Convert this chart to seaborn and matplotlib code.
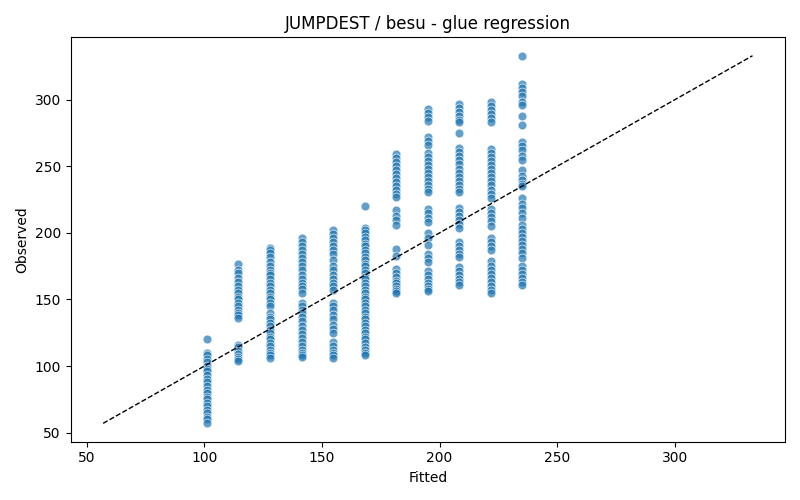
import matplotlib
matplotlib.use("Agg")
import matplotlib.pyplot as plt
import seaborn as sns
import numpy as np
import pandas as pd

fitted_levels = [101.1, 114.5, 128.0, 141.4, 154.8, 168.2, 181.6, 195.0, 208.4, 221.8, 235.2]

obs_c1 = [120, 110, 108, 105, 103, 100, 98, 96, 93, 90, 88, 85, 82, 80, 77, 75, 72, 70, 67, 65, 62, 60, 57]
obs_c2 = [177, 172, 170, 166, 163, 160, 157, 155, 152, 150, 147, 145, 142, 140, 138, 136,
          116, 114, 111, 109, 107, 105, 104]
obs_c3 = [189, 187, 185, 182, 178, 175, 172, 170, 168, 165, 162, 160, 157, 155, 152, 150, 147, 145,
          140, 137, 135, 132, 130, 127, 125, 122, 120, 117, 115, 112, 110, 108, 106]
obs_c4 = [196, 193, 190, 187, 184, 181, 178, 175, 172, 168, 165, 162, 160, 158, 155,
          147, 145, 142, 140, 137, 134, 130, 127, 124, 121, 118, 115, 112, 110, 108, 107]
obs_c5 = [202, 199, 196, 193, 190, 187, 184, 180, 175, 172, 168, 165, 162, 160, 157,
          147, 145, 142, 138, 135, 131, 128, 125, 118, 115, 112, 110, 108, 106]
obs_c6 = [220, 204, 202, 200, 197, 195, 192, 190, 187, 185, 182, 180, 177, 175, 172, 170, 167, 165,
          162, 160, 157, 155, 152, 150, 147, 145, 142, 140, 137, 135, 132, 130, 127, 125, 122, 120,
          117, 114, 112, 110, 108]
obs_c7 = [259, 256, 253, 250, 247, 244, 241, 238, 235, 232, 229, 227, 217, 213, 210, 206,
          188, 183, 173, 170, 167, 164, 162, 160, 158, 156, 155]
obs_c8 = [293, 290, 287, 284, 272, 269, 266, 260, 257, 254, 251, 248, 245, 242, 239, 236, 233, 231,
          218, 215, 211, 208, 200, 196, 191, 184, 181, 178, 171, 168, 165, 162, 160, 158, 156]
obs_c9 = [297, 294, 291, 288, 285, 283, 275, 264, 261, 258, 255, 252, 248, 245, 242, 239, 236, 233,
          231, 219, 216, 213, 210, 207, 204, 193, 190, 187, 184, 182, 174, 171, 168, 165, 163, 161]
obs_c10 = [298, 295, 292, 289, 286, 283, 263, 260, 257, 254, 251, 248, 245, 242, 239, 236, 232, 229,
           226, 218, 215, 212, 209, 205, 196, 193, 190, 187, 179, 175, 172, 169, 166, 163, 160, 157, 155]
obs_c11 = [333, 312, 309, 306, 303, 298, 296, 288, 281, 268, 265, 262, 258, 255, 247, 243, 240, 237,
           235, 226, 222, 219, 215, 211, 206, 203, 200, 197, 194, 191, 188, 185, 181, 175, 172, 169,
           166, 163, 161]

columns = [obs_c1, obs_c2, obs_c3, obs_c4, obs_c5, obs_c6, obs_c7, obs_c8, obs_c9, obs_c10, obs_c11]

rows = []
for fx, obs in zip(fitted_levels, columns):
    for o in obs:
        rows.append((fx, o))
df = pd.DataFrame(rows, columns=["Fitted", "Observed"])

fig, ax = plt.subplots(figsize=(8, 5), dpi=100)
sns.scatterplot(data=df, x="Fitted", y="Observed", ax=ax, alpha=0.7, s=40,
                color="#1f77b4", edgecolor="white", linewidth=0.6)
lo = min(df["Fitted"].min(), df["Observed"].min())
hi = max(df["Fitted"].max(), df["Observed"].max())
ax.plot([lo, hi], [lo, hi], "k--", linewidth=1)
ax.set_title("JUMPDEST / besu - glue regression")
ax.set_xlabel("Fitted")
ax.set_ylabel("Observed")
fig.tight_layout()
fig.savefig("out.png", dpi=100)
